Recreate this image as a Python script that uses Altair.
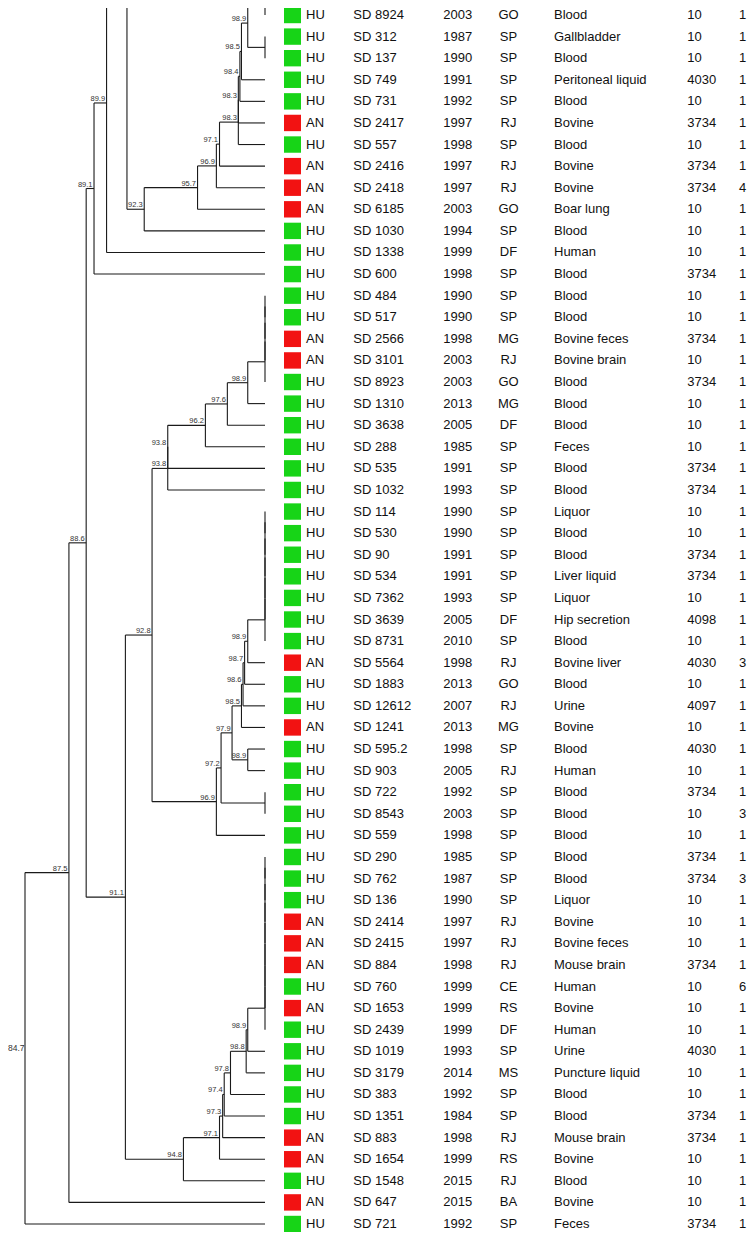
import altair as alt
import pandas as pd

# ---------------- table data (one entry per leaf, top to bottom) ----------------
group = ["HU", "HU", "HU", "HU", "HU", "AN", "HU", "AN", "AN", "AN", "HU", "HU", "HU",
         "HU", "HU", "AN", "AN", "HU", "HU", "HU", "HU", "HU", "HU",
         "HU", "HU", "HU", "HU", "HU", "HU", "HU", "AN", "HU", "HU", "AN", "HU", "HU",
         "HU", "HU", "HU",
         "HU", "HU", "HU", "AN", "AN", "AN", "HU", "AN", "HU", "HU", "HU", "HU", "HU",
         "AN", "AN", "HU", "AN", "HU"]
strain = ["SD 8924", "SD 312", "SD 137", "SD 749", "SD 731", "SD 2417", "SD 557", "SD 2416",
          "SD 2418", "SD 6185", "SD 1030", "SD 1338", "SD 600",
          "SD 484", "SD 517", "SD 2566", "SD 3101", "SD 8923", "SD 1310", "SD 3638", "SD 288",
          "SD 535", "SD 1032",
          "SD 114", "SD 530", "SD 90", "SD 534", "SD 7362", "SD 3639", "SD 8731", "SD 5564",
          "SD 1883", "SD 12612", "SD 1241", "SD 595.2", "SD 903", "SD 722", "SD 8543", "SD 559",
          "SD 290", "SD 762", "SD 136", "SD 2414", "SD 2415", "SD 884", "SD 760", "SD 1653",
          "SD 2439", "SD 1019", "SD 3179", "SD 383", "SD 1351", "SD 883", "SD 1654", "SD 1548",
          "SD 647", "SD 721"]
year = ["2003", "1987", "1990", "1991", "1992", "1997", "1998", "1997", "1997", "2003", "1994",
        "1999", "1998",
        "1990", "1990", "1998", "2003", "2003", "2013", "2005", "1985", "1991", "1993",
        "1990", "1990", "1991", "1991", "1993", "2005", "2010", "1998", "2013", "2007", "2013",
        "1998", "2005", "1992", "2003", "1998",
        "1985", "1987", "1990", "1997", "1997", "1998", "1999", "1999", "1999", "1993", "2014",
        "1992", "1984", "1998", "1999", "2015", "2015", "1992"]
state = ["GO", "SP", "SP", "SP", "SP", "RJ", "SP", "RJ", "RJ", "GO", "SP", "DF", "SP",
         "SP", "SP", "MG", "RJ", "GO", "MG", "DF", "SP", "SP", "SP",
         "SP", "SP", "SP", "SP", "SP", "DF", "SP", "RJ", "GO", "RJ", "MG", "SP", "RJ", "SP",
         "SP", "SP",
         "SP", "SP", "SP", "RJ", "RJ", "RJ", "CE", "RS", "DF", "SP", "MS", "SP", "SP", "RJ",
         "RS", "RJ", "BA", "SP"]
source = ["Blood", "Gallbladder", "Blood", "Peritoneal liquid", "Blood", "Bovine", "Blood",
          "Bovine", "Bovine", "Boar lung", "Blood", "Human", "Blood",
          "Blood", "Blood", "Bovine feces", "Bovine brain", "Blood", "Blood", "Blood", "Feces",
          "Blood", "Blood",
          "Liquor", "Blood", "Blood", "Liver liquid", "Liquor", "Hip secretion", "Blood",
          "Bovine liver", "Blood", "Urine", "Bovine", "Blood", "Human", "Blood", "Blood", "Blood",
          "Blood", "Blood", "Liquor", "Bovine", "Bovine feces", "Mouse brain", "Human", "Bovine",
          "Human", "Urine", "Puncture liquid", "Blood", "Blood", "Mouse brain", "Bovine", "Blood",
          "Bovine", "Feces"]
code = ["10", "10", "10", "4030", "10", "3734", "10", "3734", "3734", "10", "10", "10", "3734",
        "10", "10", "3734", "10", "3734", "10", "10", "10", "3734", "3734",
        "10", "10", "3734", "3734", "10", "4098", "10", "4030", "10", "4097", "10", "4030", "10",
        "3734", "10", "10",
        "3734", "3734", "10", "10", "10", "3734", "10", "10", "10", "4030", "10", "10", "3734",
        "3734", "10", "10", "10", "3734"]
count = ["1", "1", "1", "1", "1", "1", "1", "1", "4", "1", "1", "1", "1",
         "1", "1", "1", "1", "1", "1", "1", "1", "1", "1",
         "1", "1", "1", "1", "1", "1", "1", "3", "1", "1", "1", "1", "1", "1", "3", "1",
         "1", "3", "1", "1", "1", "1", "6", "1", "1", "1", "1", "1", "1", "1", "1", "1",
         "1", "1"]

# ---------------- dendrogram topology (figure is cropped at the top) ----------------
# hidden branches above the cropped top edge: row positions
hidden_rows = {"h1": -2.0, "h2": -1.0, "h3": -14.7}
# merges: ints = leaf row, "mK" = earlier merge K, "hK" = hidden branch
merge_left = ["h1", "m0", 1, "m1", "m3", "m4", "m5", "m6", "m7", "m8", "m9", "m10", "h3", "m12",
              "m13",
              13, "m15", "m16", "m17", "m18", "m19", "m20", "m21", "m22",
              23, "m24", "m25", "m26", "m27", "m28", "m29", "m30", "m31", "m32", 34, "m33", 36,
              "m35", "m37", "m23",
              39, "m40", "m41", "m42", "m43", "m44", "m45", "m46", "m47", "m48", "m49", "m50",
              "m51", "m52", "m53", "m39", "m14", "m56", "m57"]
merge_right = ["h2", 0, 2, "m2", 3, 4, 5, 6, 7, 8, 9, 10, "m11", 11,
               12,
               14, 15, 16, 17, 18, 19, 20, 21, 22,
               24, 25, 26, 27, 28, 29, 30, 31, 32, 33, 35, "m34", 37,
               "m36", 38, "m38",
               40, 41, 42, 43, 44, 45, 46, 47, 48, 49, 50, 51,
               52, 53, 54, "m54", "m55", 55, 56]
merge_sim = [100, 100, 100, 98.9, 98.5, 98.4, 98.3, 98.3, 97.1, 96.9, 95.7, 92.3, 91.2, 89.9,
             89.1,
             100, 100, 100, 100, 98.9, 97.6, 96.2, 93.8, 93.8,
             100, 100, 100, 100, 100, 100, 98.9, 98.7, 98.6, 98.5, 98.9, 97.9, 100,
             97.2, 96.9, 92.8,
             100, 100, 100, 100, 100, 100, 100, 100, 98.9, 98.8, 97.8, 97.4,
             97.3, 97.1, 94.8, 91.1, 88.6, 87.5, 84.7]

# ---------------- layout (chart fits inside the 755x1240 window with 8px margins) ----------------
W, H = 739, 1224
ROW0_PX, ROWN_PX = 7.0, 1216.0
ROW_STEP = (ROWN_PX - ROW0_PX) / (len(strain) - 1)
X_ROOT_PX, X_100_PX = 17.0, 257.0
root_sim = merge_sim[-1]
px_per = (X_100_PX - X_ROOT_PX) / (100.0 - root_sim)
x_dom = [root_sim - X_ROOT_PX / px_per, root_sim + (W - X_ROOT_PX) / px_per]
y_dom = [-ROW0_PX / ROW_STEP, (H - ROW0_PX) / ROW_STEP]
xs = alt.Scale(domain=x_dom, nice=False, zero=False)
ys = alt.Scale(domain=y_dom, nice=False, zero=False, reverse=True)

GREEN, RED = "#17d417", "#f21212"
FONT = "Liberation Sans"

# ---------------- build segments ----------------
pos = {k: (100.0, v) for k, v in hidden_rows.items()}


def ref(c):
    if isinstance(c, int):
        return (100.0, float(c))
    return pos[c]


segs, labels = [], []
for i, (a, b, s) in enumerate(zip(merge_left, merge_right, merge_sim)):
    sa, ra = ref(a)
    sb, rb = ref(b)
    segs.append(dict(x=s, x2=s, y=ra, y2=rb))
    segs.append(dict(x=s, x2=sa, y=ra, y2=ra))
    segs.append(dict(x=s, x2=sb, y=rb, y2=rb))
    r = (ra + rb) / 2.0
    pos[f"m{i}"] = (s, r)
    if s < 100 and i < len(merge_sim) - 1 and r > y_dom[0] + 0.5:
        labels.append(dict(s=s, r=r, t=f"{s:.1f}"))
root = pos[f"m{len(merge_sim) - 1}"]
root_df = pd.DataFrame([dict(s=root[0], r=root[1], t=f"{root[0]:.1f}")])

seg_df = pd.DataFrame(segs)
lab_df = pd.DataFrame(labels)

n = len(strain)
tab = pd.DataFrame(dict(r=list(range(n)), group=group, strain=strain, year=year, state=state,
                        source=source, code=code, count=count))
tab["r0"] = tab["r"] - 0.38
tab["r1"] = tab["r"] + 0.38

lines = alt.Chart(seg_df).mark_rule(color="#1a1a1a", strokeWidth=1.1, clip=True).encode(
    x=alt.X("x:Q", scale=xs, axis=None), x2="x2:Q",
    y=alt.Y("y:Q", scale=ys, axis=None), y2="y2:Q")

lab = alt.Chart(lab_df).mark_text(align="right", baseline="alphabetic", dx=-1.5, dy=-2,
                                  fontSize=7.5, font=FONT, color="#333333", clip=True).encode(
    x=alt.X("s:Q", scale=xs, axis=None), y=alt.Y("r:Q", scale=ys, axis=None), text="t:N")

root_lab = alt.Chart(root_df).mark_text(align="left", baseline="middle", fontSize=8.5,
                                        font=FONT, color="#333333").encode(
    x=alt.value(0), y=alt.Y("r:Q", scale=ys, axis=None), text="t:N")

boxes = alt.Chart(tab).mark_rect(clip=True).encode(
    x=alt.value(276), x2=alt.value(293),
    y=alt.Y("r0:Q", scale=ys, axis=None), y2="r1:Q",
    color=alt.Color("group:N", scale=alt.Scale(domain=["HU", "AN"], range=[GREEN, RED]),
                    legend=None))

cols = [("group", 298, "left"), ("strain", 345.3, "left"), ("year", 435.3, "left"),
        ("state", 500.5, "center"), ("source", 546, "left"), ("code", 679.3, "left"),
        ("count", 731, "left")]
texts = []
for field, px, al in cols:
    texts.append(alt.Chart(tab).mark_text(align=al, baseline="middle", fontSize=13, font=FONT,
                                          color="#111111").encode(
        x=alt.value(px), y=alt.Y("r:Q", scale=ys, axis=None), text=f"{field}:N"))

chart = alt.layer(lines, lab, root_lab, boxes, *texts).properties(
    width=W, height=H, padding=0, autosize=alt.AutoSizeParams(type="none")
).configure_view(strokeWidth=0)

chart.save("out.html", embed_options={"renderer": "svg", "actions": False})
